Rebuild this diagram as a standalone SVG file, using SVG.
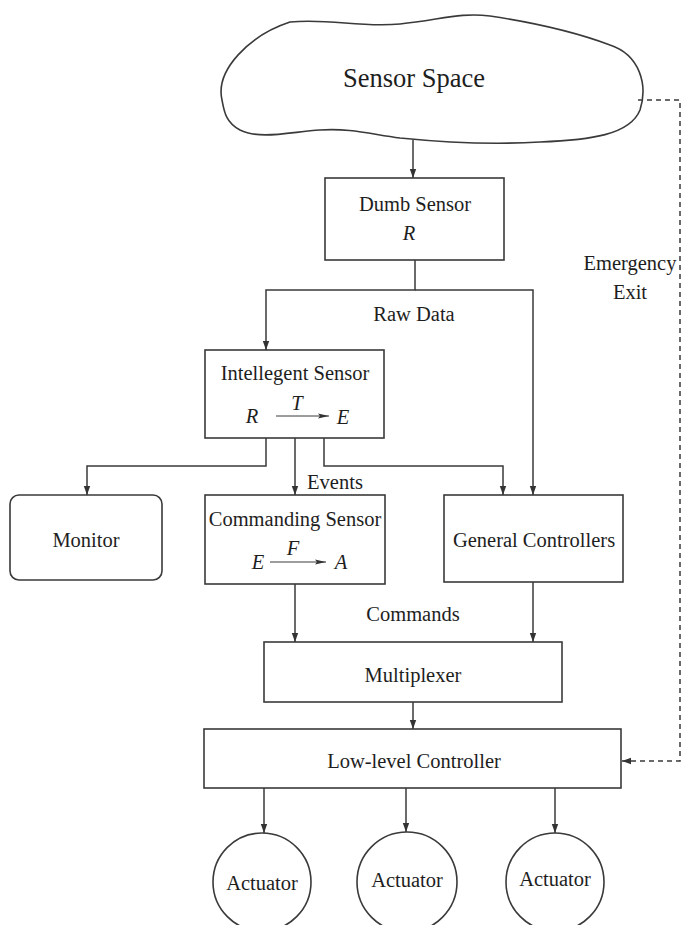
<svg xmlns="http://www.w3.org/2000/svg" width="682" height="925" viewBox="0 0 682 925">
<defs>
<marker id="ah" markerWidth="10" markerHeight="8" refX="9" refY="4" orient="auto" markerUnits="userSpaceOnUse">
<path d="M0,0.8 L9,4 L0,7.2 Z" fill="#333"/>
</marker>
<marker id="ahs" markerWidth="12" markerHeight="8" refX="11" refY="4" orient="auto" markerUnits="userSpaceOnUse">
<path d="M0,1.5 L11,4 L0,6.5 L2,4 Z" fill="#333"/>
</marker>
<style>
.box{fill:#fff;stroke:#3a3a3a;stroke-width:1.6}
.ln{fill:none;stroke:#3a3a3a;stroke-width:1.5}
.t{font-family:"Liberation Serif","Times New Roman",serif;font-size:20.5px;fill:#1e1e1e;text-anchor:middle}
.i{font-style:italic}
</style>
</defs>
<rect width="682" height="925" fill="#fff"/>

<g id="sensor-space">
<path class="box" d="M222 100 C215 70,250 35,290 22 C330 18,360 28,400 24 C440 20,460 12,490 16 C530 22,570 30,610 45 C640 55,648 85,640 110 C630 135,590 140,540 142 C490 145,440 142,400 138 C370 134,350 128,320 130 C290 132,260 140,240 130 C225 122,224 110,222 100 Z"/>
<text class="t" x="414" y="87" style="font-size:26.5px">Sensor Space</text>
</g>

<g id="dumb-sensor">
<rect class="box" x="325" y="178" width="179" height="82"/>
<text class="t" x="415" y="211">Dumb Sensor</text>
<text class="t i" x="409" y="240">R</text>
</g>

<g id="intellegent-sensor">
<rect class="box" x="205" y="350" width="179" height="88"/>
<text class="t" x="295" y="380">Intellegent Sensor</text>
<text class="t i" x="252" y="423">R</text>
<text class="t i" x="297" y="410">T</text>
<line class="ln" x1="276" y1="416" x2="329" y2="416" marker-end="url(#ahs)" style="stroke-width:1"/>
<text class="t i" x="343" y="424">E</text>
</g>

<g id="monitor">
<rect class="box" x="10" y="495" width="152" height="85" rx="9"/>
<text class="t" x="86" y="547">Monitor</text>
</g>

<g id="commanding-sensor">
<rect class="box" x="205" y="495" width="180" height="89"/>
<text class="t" x="295" y="526">Commanding Sensor</text>
<text class="t i" x="293" y="555">F</text>
<text class="t i" x="258" y="569">E</text>
<line class="ln" x1="270" y1="562" x2="326" y2="562" marker-end="url(#ahs)" style="stroke-width:1"/>
<text class="t i" x="341" y="569">A</text>
</g>

<g id="general-controllers">
<rect class="box" x="444" y="495" width="179" height="87"/>
<text class="t" x="534" y="547">General Controllers</text>
</g>

<g id="multiplexer">
<rect class="box" x="264" y="642" width="298" height="60"/>
<text class="t" x="413" y="682">Multiplexer</text>
</g>

<g id="low-level-controller">
<rect class="box" x="204" y="729" width="417" height="59"/>
<text class="t" x="414" y="768">Low-level Controller</text>
</g>

<g id="actuator-1">
<circle class="box" cx="262" cy="882" r="49"/>
<text class="t" x="262" y="890">Actuator</text>
</g>
<g id="actuator-2">
<circle class="box" cx="407" cy="882" r="50"/>
<text class="t" x="407" y="887">Actuator</text>
</g>
<g id="actuator-3">
<circle class="box" cx="555" cy="882" r="49"/>
<text class="t" x="555" y="886">Actuator</text>
</g>

<g id="connectors">
<path class="ln" d="M413 140 V178" marker-end="url(#ah)"/>
<path class="ln" d="M415 260 V290 H266 V350" marker-end="url(#ah)"/>
<path class="ln" d="M415 290 H533 V495" marker-end="url(#ah)"/>
<path class="ln" d="M266 438 V466 H87 V495" marker-end="url(#ah)"/>
<path class="ln" d="M295 438 V495" marker-end="url(#ah)"/>
<path class="ln" d="M324 438 V466 H503 V495" marker-end="url(#ah)"/>
<path class="ln" d="M295 584 V642" marker-end="url(#ah)"/>
<path class="ln" d="M533 582 V642" marker-end="url(#ah)"/>
<path class="ln" d="M413 702 V729" marker-end="url(#ah)"/>
<path class="ln" d="M264 788 V833" marker-end="url(#ah)"/>
<path class="ln" d="M406 788 V832" marker-end="url(#ah)"/>
<path class="ln" d="M555 788 V833" marker-end="url(#ah)"/>
<path class="ln" d="M638 100 H680 V761 H622" stroke-dasharray="5,4" marker-end="url(#ah)"/>
<text class="t" x="414" y="321">Raw Data</text>
<text class="t" x="335" y="489">Events</text>
<text class="t" x="413" y="621">Commands</text>
<text class="t" x="630" y="270">Emergency</text>
<text class="t" x="630" y="299">Exit</text>
</g>
</svg>
